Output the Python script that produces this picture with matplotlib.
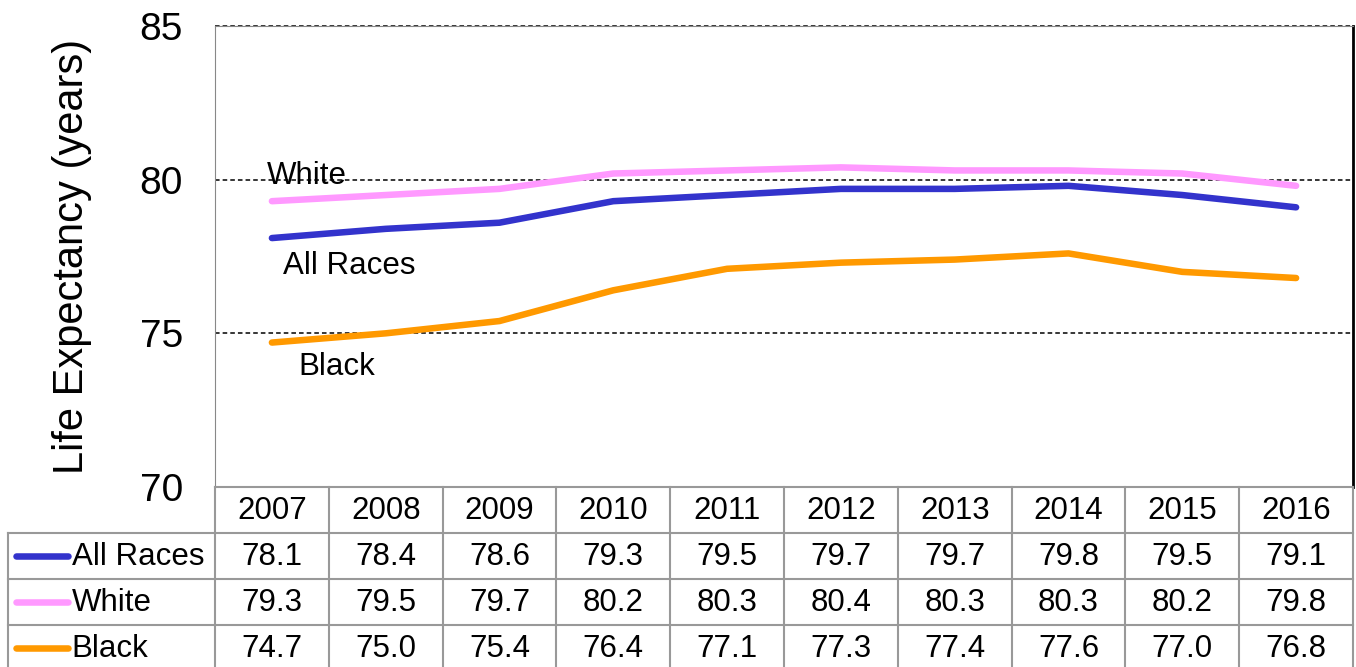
import matplotlib.pyplot as plt

plt.rcParams['font.family'] = ['Liberation Sans', 'DejaVu Sans']

# datos
years = ['2007', '2008', '2009', '2010', '2011', '2012', '2013', '2014', '2015', '2016']
all_races = [78.1, 78.4, 78.6, 79.3, 79.5, 79.7, 79.7, 79.8, 79.5, 79.1]
white = [79.3, 79.5, 79.7, 80.2, 80.3, 80.4, 80.3, 80.3, 80.2, 79.8]
black = [74.7, 75.0, 75.4, 76.4, 77.1, 77.3, 77.4, 77.6, 77.0, 76.8]

series = [('All Races', all_races, '#3333CC'),
          ('White', white, '#FF99FF'),
          ('Black', black, '#FF9900')]

W, H = 1356, 667
fig = plt.figure(figsize=(W / 100, H / 100), dpi=100)

# eje principal
ax = fig.add_axes([215 / W, 1 - 487 / H, 1138 / W, 461 / H])
x = list(range(len(years)))
for name, vals, col in series:
    ax.plot(x, vals, color=col, lw=4.7, solid_capstyle='round')

ax.set_xlim(-0.5, len(years) - 0.5)
ax.set_ylim(70, 85)
ax.set_yticks([70, 75, 80, 85])
ax.tick_params(axis='y', length=0, labelsize=28, pad=23)
ax.set_xticks([])
for yv in [75, 80, 85]:
    ax.axhline(yv, color='black', ls=(0, (3, 2)), lw=1.1, zorder=0, clip_on=False)
ax.spines['left'].set_color('#888888')
ax.spines['top'].set_color('#888888')
ax.spines['right'].set_color('black')
ax.spines['right'].set_linewidth(2)
ax.spines['bottom'].set_visible(False)
ax.set_ylabel('Life Expectancy (years)', fontsize=30, labelpad=34)

# etiquetas de las series
ax.text(-0.043, 80.12, 'White', fontsize=22.5, va='center')
ax.text(0.097, 77.19, 'All Races', fontsize=22.5, va='center')
ax.text(0.229, 73.9, 'Black', fontsize=22.5, va='center')

# tabla de datos
lab_w = 207 / 113.8
tab = fig.add_axes([8 / W, 1 - 671 / H, 1345 / W, 184 / H])
tab.set_xlim(-lab_w, len(years))
tab.set_ylim(4, 0)
tab.axis('off')
gc = '#999999'
for r in range(5):
    x0 = 0 if r == 0 else -lab_w
    tab.plot([x0, len(years)], [r, r], color=gc, lw=1.5, clip_on=False)
for c in range(len(years) + 1):
    tab.plot([c, c], [0, 4], color=gc, lw=1.5, clip_on=False)
tab.plot([-lab_w, -lab_w], [1, 4], color=gc, lw=1.5, clip_on=False)

for i, yr in enumerate(years):
    tab.text(i + 0.5, 0.52, yr, ha='center', va='center', fontsize=22.5)
for r, (name, vals, col) in enumerate(series, start=1):
    tab.plot([-lab_w + 0.07, -lab_w + 0.53], [r + 0.5, r + 0.5], color=col,
             lw=4.7, solid_capstyle='round', clip_on=False)
    tab.text(-lab_w + 0.56, r + 0.52, name, ha='left', va='center', fontsize=22.5)
    for i, v in enumerate(vals):
        tab.text(i + 0.5, r + 0.52, f'{v:.1f}', ha='center', va='center', fontsize=22.5)

fig.savefig('out.png', dpi=100)
